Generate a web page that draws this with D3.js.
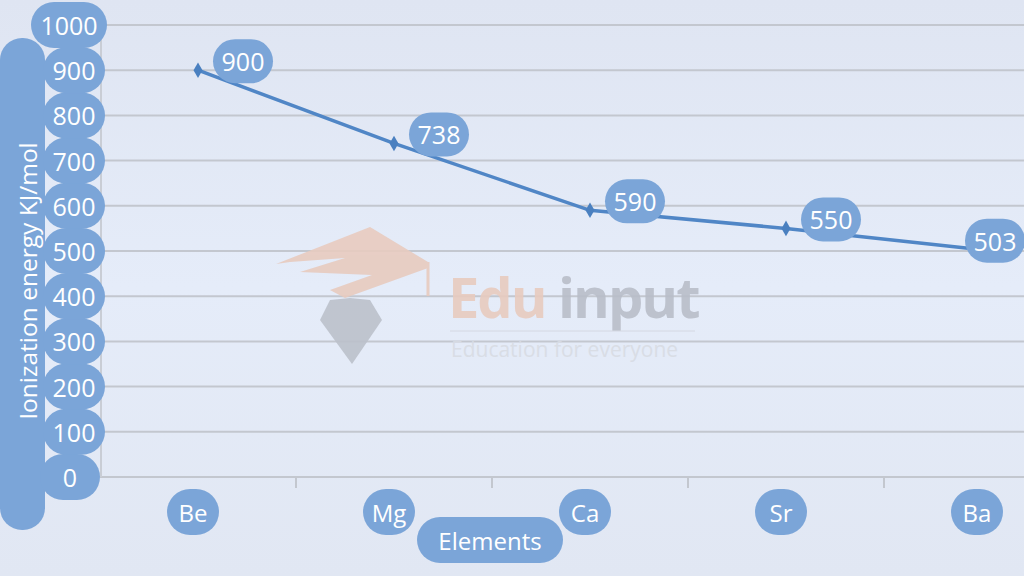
<!DOCTYPE html>
<html>
<head>
<meta charset="utf-8">
<script src="https://cdn.jsdelivr.net/npm/d3@7"></script>
<style>
  body { margin: 0; background: #e3e9f5; }
  svg { display: block; font-family: "Open Sans", sans-serif; }
</style>
</head>
<body>
<div id="chart"></div>
<script>
// chart data
const elements = ["Be", "Mg", "Ca", "Sr", "Ba"];
const energies = [900, 738, 590, 550, 503];
const yTicks = [0, 100, 200, 300, 400, 500, 600, 700, 800, 900, 1000];

const W = 1024, H = 576;
const pill = "#7ba5d8";

const svg = d3.select("#chart").append("svg")
  .attr("width", W).attr("height", H);

// background
const grad = svg.append("defs").append("linearGradient")
  .attr("id", "bg").attr("x1", 0).attr("y1", 0).attr("x2", 0).attr("y2", 1);
grad.append("stop").attr("offset", "0%").attr("stop-color", "#dfe5f2");
grad.append("stop").attr("offset", "50%").attr("stop-color", "#e5ecf9");
grad.append("stop").attr("offset", "100%").attr("stop-color", "#e1e7f3");
svg.append("rect").attr("width", W).attr("height", H).attr("fill", "url(#bg)");

// scales
const x = d3.scaleBand().domain(elements).range([100, 1080]);
const y = d3.scaleLinear().domain([0, 1000]).range([477, 25]);

// gridlines
svg.append("g")
  .selectAll("line")
  .data(yTicks)
  .join("line")
  .attr("x1", 100).attr("x2", W)
  .attr("y1", d => y(d)).attr("y2", d => y(d))
  .attr("stroke", "#c3c7cf")
  .attr("stroke-width", 2);

// left axis line + x ticks
svg.append("line")
  .attr("x1", 101).attr("x2", 101).attr("y1", 25).attr("y2", 477)
  .attr("stroke", "#c9cdd5").attr("stroke-width", 2);
svg.append("g")
  .selectAll("line")
  .data(elements.slice(1))
  .join("line")
  .attr("x1", d => x(d)).attr("x2", d => x(d))
  .attr("y1", 477).attr("y2", 488)
  .attr("stroke", "#c3c7cf").attr("stroke-width", 2);

// watermark
const wm = svg.append("g").attr("opacity", 0.9);
wm.append("path")
  .attr("d", "M276,264 L370,227 L428,262 L428,268 L345,298 L330,290 L372,275 L300,272 L345,258 L290,262 Z")
  .attr("fill", "#e8cbbf");
wm.append("line").attr("x1", 428).attr("x2", 428).attr("y1", 262).attr("y2", 296)
  .attr("stroke", "#e8cbbf").attr("stroke-width", 3);
wm.append("path")
  .attr("d", "M330,300 L350,298 L370,300 L382,320 L352,364 L320,320 Z")
  .attr("fill", "#bcc1cb");
wm.append("text").attr("x", 448).attr("y", 318)
  .attr("font-size", 56).attr("font-weight", 700).attr("fill", "#e8cbbf")
  .attr("letter-spacing", -2).text("Edu");
wm.append("text").attr("x", 558).attr("y", 318)
  .attr("font-size", 56).attr("font-weight", 700).attr("fill", "#b9bec9")
  .attr("letter-spacing", -2).text("input");
wm.append("line").attr("x1", 450).attr("x2", 695).attr("y1", 331).attr("y2", 331)
  .attr("stroke", "#d4d8e0").attr("stroke-width", 1);
wm.append("text").attr("x", 451).attr("y", 357)
  .attr("font-size", 21).attr("fill", "#d8dce4").text("Education for everyone");

// line
svg.append("path")
  .datum(energies)
  .attr("fill", "none")
  .attr("stroke", "#5086c6")
  .attr("stroke-width", 3.5)
  .attr("d", d3.line()
    .x((d, i) => x(elements[i]) + x.bandwidth() / 2)
    .y(d => y(d)));

svg.append("g")
  .selectAll("path")
  .data(energies)
  .join("path")
  .attr("d", d3.symbol(d3.symbolDiamond, 70))
  .attr("transform", (d, i) => `translate(${x(elements[i]) + x.bandwidth() / 2},${y(d)})`)
  .attr("fill", "#4a80c0");

// helper for pill labels
function pillLabel(g, cx, cy, w, h, txt, size) {
  g.append("rect")
    .attr("x", cx - w / 2).attr("y", cy - h / 2)
    .attr("width", w).attr("height", h)
    .attr("rx", h / 2)
    .attr("fill", pill);
  g.append("text")
    .attr("x", cx).attr("y", cy)
    .attr("text-anchor", "middle")
    .attr("dominant-baseline", "central")
    .attr("font-size", size)
    .attr("fill", "#ffffff")
    .text(txt);
}

// y axis title
const yt = svg.append("g");
yt.append("rect").attr("x", 0).attr("y", 38).attr("width", 45).attr("height", 492)
  .attr("rx", 22).attr("fill", pill);
yt.append("text")
  .attr("transform", "translate(27,281) rotate(-90)")
  .attr("text-anchor", "middle").attr("dominant-baseline", "central")
  .attr("font-size", 24.5).attr("fill", "#ffffff")
  .text("Ionization energy KJ/mol");

// y tick labels
const yl = svg.append("g");
yTicks.forEach(t => {
  const s = String(t);
  const w = s.length === 4 ? 76 : (s.length === 1 ? 60 : 62);
  pillLabel(yl, 105 - w / 2 - (s.length === 1 ? 5 : 0) + (s.length === 4 ? 2 : 0), y(t), w, 46, s, 25);
});

// x tick labels
const xl = svg.append("g");
elements.forEach(e => pillLabel(xl, x(e) + x.bandwidth() / 2 - 5, 512, 52, 46, e, 24));

// x axis title
pillLabel(svg.append("g"), 490, 540, 146, 46, "Elements", 24);

// data labels
const dl = svg.append("g");
energies.forEach((v, i) => {
  const cx = Math.min(x(elements[i]) + x.bandwidth() / 2 + 45, W - 29);
  pillLabel(dl, cx, y(v) - 9, 60, 44, String(v), 25);
});
</script>
</body>
</html>
